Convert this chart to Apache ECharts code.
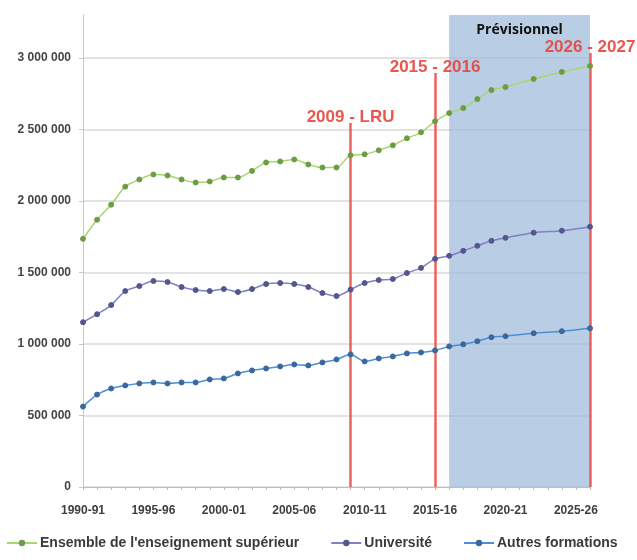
<!DOCTYPE html>
<html>
<head>
<meta charset="utf-8">
<script src="https://cdn.jsdelivr.net/npm/echarts@6/dist/echarts.min.js"></script>
<style>html,body{margin:0;padding:0;background:#fff}#c{width:637px;height:560px}</style>
</head>
<body>
<div id="c"></div>
<script>
var categories = ['1990-91','1991-92','1992-93','1993-94','1994-95','1995-96','1996-97','1997-98','1998-99','1999-00',
  '2000-01','2001-02','2002-03','2003-04','2004-05','2005-06','2006-07','2007-08','2008-09','2009-10',
  '2010-11','2011-12','2012-13','2013-14','2014-15','2015-16','2016-17','2017-18','2018-19','2019-20',
  '2020-21','2021-22','2022-23','2023-24','2024-25','2025-26','2026-27'];

var ensemble = [1735000,1869000,1974000,2100000,2150000,2185000,2178000,2150000,2129000,2136000,
  2164000,2164000,2210000,2269000,2276000,2290000,2255000,2234000,2234000,2319000,
  2326000,2354000,2389000,2438000,2480000,2557000,2614000,2649000,2712000,2775000,
  2796000,null,2853000,null,2902000,null,2944000];

var universite = [1152000,1208000,1272000,1370000,1405000,1440000,1433000,1398000,1377000,1370000,
  1384000,1363000,1384000,1419000,1426000,1419000,1398000,1356000,1335000,1380000,
  1426000,1447000,1454000,1496000,1532000,1595000,1616000,1651000,1686000,1721000,
  1742000,null,1778000,null,1792000,null,1820000];

var autres = [562000,646000,689000,710000,724000,731000,724000,731000,731000,752000,
  759000,794000,815000,829000,843000,857000,850000,871000,892000,927000,
  878000,899000,913000,934000,941000,955000,983000,998000,1019000,1047000,
  1054000,null,1075000,null,1089000,null,1110000];

var seriesNames = ["Ensemble de l'enseignement supérieur", 'Université', 'Autres formations'];

// annotation lines: [category, top value, label]
var eventLines = [
  ['2009-10', 2545000, '2009 - LRU'],
  ['2015-16', 2895000, '2015 - 2016'],
  ['2026-27', 3035000, '2026 - 2027']
];
var forecastRange = ['2016-17', '2026-27'];
var forecastLabel = 'Prévisionnel';

function fmt(v){ return String(v).replace(/\B(?=(\d{3})+(?!\d))/g, ' '); }

var chart = echarts.init(document.getElementById('c'), null, {renderer:'canvas'});
var font = 'Liberation Sans';

var option = {
  animation: false,
  textStyle: {fontFamily: font},
  grid: {left: 83, right: 47, top: 15, bottom: 73, containLabel: false},
  legend: {
    left: 1, top: 531, itemWidth: 30, itemHeight: 8, itemGap: 31,
    textStyle: {fontSize: 14, fontWeight: 'bold', color: '#3a3a3a', fontFamily: font, padding: [0,0,0,-2]},
    data: seriesNames
  },
  xAxis: {
    type: 'category', data: categories, boundaryGap: false,
    axisLine: {lineStyle: {color: '#bfbfbf', width: 1}},
    axisTick: {show: true, interval: 0, length: 3, alignWithLabel: true, lineStyle: {color: '#bfbfbf'}},
    axisLabel: {interval: 4, fontSize: 12, fontWeight: 'bold', color: '#3f3f3f', margin: 18, fontFamily: font},
    splitLine: {show: false}
  },
  yAxis: {
    type: 'value', min: 0, max: 3300000, interval: 500000,
    axisLine: {show: true, lineStyle: {color: '#c8c8c8'}},
    axisTick: {show: true, length: 4, lineStyle: {color: '#c8c8c8'}},
    axisLabel: {fontSize: 12, fontWeight: 'bold', color: '#444', margin: 12, showMaxLabel: false, fontFamily: font,
      formatter: function(v){ return v % 500000 === 0 ? fmt(v) : ''; }},
    splitLine: {show: true, showMaxLine: false, lineStyle: {color: '#dadada', width: 1.5}}
  },
  series: [
    {
      name: seriesNames[0], type: 'line', data: ensemble, smooth: 0.3, connectNulls: true,
      symbol: 'circle', symbolSize: 5, z: 5,
      lineStyle: {color: '#a8d66e', width: 1.5},
      itemStyle: {color: '#6c9c44', borderColor: '#6c9c44'},
      markArea: {
        silent: true,
        itemStyle: {color: 'rgba(155,184,218,0.7)'},
        label: {show: true, position: 'insideTop', distance: 8, color: '#111', fontWeight: 'bold', fontSize: 14, fontFamily: 'Open Sans'},
        data: [[{name: forecastLabel, xAxis: forecastRange[0]}, {xAxis: forecastRange[1]}]]
      },
      markLine: {
        silent: true, symbol: ['none','none'],
        lineStyle: {color: '#e8524a', width: 2.5, type: 'solid', opacity: 0.9},
        label: {show: true, position: 'end', distance: -3, color: '#e8443c', fontSize: 17, fontWeight: 'bold', fontFamily: font},
        data: eventLines.map(function(e){
          return [{coord: [e[0], 0], label: {formatter: e[2]}}, {coord: [e[0], e[1]]}];
        })
      }
    },
    {
      name: seriesNames[1], type: 'line', data: universite, smooth: 0.3, connectNulls: true,
      symbol: 'circle', symbolSize: 5, z: 5,
      lineStyle: {color: '#8080c2', width: 1.5},
      itemStyle: {color: '#55558f', borderColor: '#55558f'}
    },
    {
      name: seriesNames[2], type: 'line', data: autres, smooth: 0.3, connectNulls: true,
      symbol: 'circle', symbolSize: 5, z: 5,
      lineStyle: {color: '#4d8fd6', width: 1.5},
      itemStyle: {color: '#3a679e', borderColor: '#3a679e'}
    }
  ]
};
chart.setOption(option);
</script>
</body>
</html>
